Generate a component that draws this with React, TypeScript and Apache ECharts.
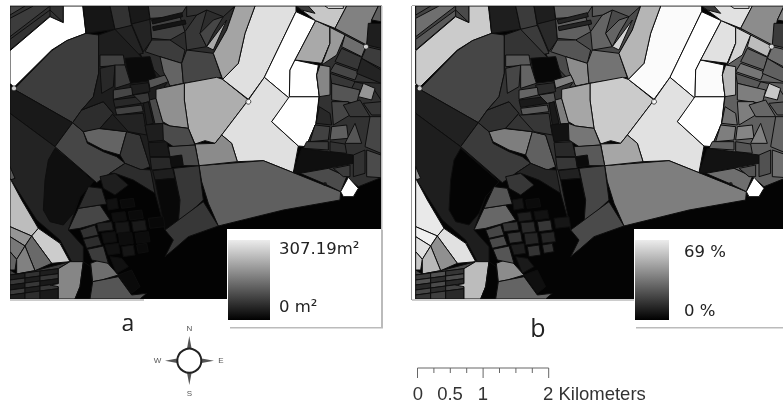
import React, { useEffect, useRef } from "react";
import * as echarts from "echarts";

type Row = [string, number, number];

// Every row: outline in map units, floor area (m2), share (%)
const seaRows: Row[] = [["30,18 1143,18 1143,897 30,897", 4, 1]];

const westRows: Row[] = [
  ["30,18 190,18 190,68 150,50 30,150", 60, 18],
  ["30,18 75,18 30,45", 84, 22],
  ["30,55 100,18 150,18 30,110", 72, 30],
  ["30,118 150,30 150,48 30,150", 60, 24],
  ["150,18 190,18 190,68 150,30", 60, 20],
  ["30,152 150,50 190,68 190,18 248,18 258,100 200,122 155,150 42,262 30,250", 307, 55],
  ["42,268 155,152 200,122 258,100 296,105 296,220 280,290 245,330 218,368", 74, 19],
  ["30,255 42,268 218,368 165,440 30,340", 30, 9],
  ["30,340 165,440 280,545 240,590 205,690 250,740 250,785 215,785 180,720 110,660 30,535", 42, 8],
  ["30,500 45,535 30,540", 108, 40],
  ["165,445 280,545 240,590 220,640 190,675 150,665 130,630 135,540 145,480", 18, 1],
  ["218,368 250,395 262,430 310,455 350,470 375,490 330,520 290,548 165,440", 84, 16],
  ["250,395 290,385 380,395 360,465 310,450 262,425", 120, 34],
  ["380,395 420,405 450,500 425,510 375,490 360,465", 66, 26],
  ["375,490 420,508 455,510 465,580 400,540 345,520 330,520", 54, 10],
  ["218,368 245,330 310,305 340,340 300,385 250,395", 54, 13],
  ["30,535 65,600 115,685 95,708 30,680", 228, 63],
  ["30,680 95,708 75,738 30,710", 180, 65],
  ["30,710 75,738 50,778 30,755", 144, 61],
  ["30,755 50,778 45,810 30,810", 120, 54],
  ["95,708 115,685 180,730 210,785 155,790", 246, 61],
  ["95,708 155,790 105,812 75,738", 126, 39],
  ["50,778 75,738 105,812 50,822", 156, 50],
  ["30,810 50,822 105,812 210,785 175,806 30,825", 72, 20],
  ["205,690 235,625 300,615 330,660 240,685", 84, 28],
  ["235,625 265,560 305,565 320,612 300,615", 54, 23],
];

const stripRows: Row[] = [
  ["30,825 75,819 75,834 30,840", 36, 16],
  ["75,819 120,813 120,828 75,834", 60, 22],
  ["120,813 175,806 175,821 120,828", 36, 14],
  ["30,840 75,834 75,849 30,855", 66, 22],
  ["75,834 120,828 120,843 75,849", 36, 12],
  ["120,828 175,821 175,836 120,843", 66, 20],
  ["30,855 75,849 75,864 30,870", 30, 11],
  ["75,849 120,843 120,858 75,864", 66, 20],
  ["120,843 175,836 175,851 120,858", 30, 11],
  ["30,870 75,864 75,879 30,885", 72, 19],
  ["75,864 120,858 120,873 75,879", 36, 12],
  ["120,858 175,851 175,866 120,873", 66, 18],
  ["30,885 75,879 75,897 30,897", 36, 14],
  ["75,879 120,873 120,897 75,897", 54, 17],
  ["120,873 175,866 175,897 120,897", 30, 11],
  ["175,806 210,785 250,785 240,860 225,897 175,897 175,860 150,855 175,851", 162, 51],
  ["250,785 272,800 278,850 270,897 225,897 240,860", 5, 1],
  ["272,790 310,775 355,825 305,840 278,845", 132, 38],
  ["278,845 355,830 395,885 440,880 420,897 270,897", 102, 27],
];

const northRows: Row[] = [
  ["250,18 705,18 680,90 640,160 665,232 550,250 468,268 420,160 345,88 258,100", 54, 20],
  ["250,18 330,18 345,88 258,100", 26, 8],
  ["330,18 385,18 395,80 345,88", 60, 16],
  ["385,18 445,18 450,60 395,72", 30, 8],
  ["445,18 560,18 540,50 450,55", 96, 27],
  ["296,105 345,88 358,160 300,165", 60, 16],
  ["345,88 395,76 430,160 380,170 358,150", 42, 16],
  ["395,72 450,58 455,120 430,155", 42, 11],
  ["450,58 540,50 555,95 510,120 455,115", 78, 26],
  ["455,60 545,38 548,50 458,72", 24, 10],
  ["458,80 555,60 558,72 460,92", 24, 10],
  ["455,120 510,120 555,150 545,190 480,170 435,155", 72, 23],
  ["480,170 545,190 550,250 510,258 490,215", 120, 38],
  ["545,190 560,150 640,160 665,232 550,250", 84, 31],
  ["555,95 590,45 620,30 600,100 620,140 560,150", 66, 27],
  ["620,140 600,100 640,60 670,50 640,100", 84, 27],
  ["620,140 680,60 640,150", 204, 57],
  ["560,18 705,18 670,50 620,30 590,45 560,50", 60, 24],
];

const coreRows: Row[] = [
  ["296,105 345,88 500,250 468,295 488,370 520,530 540,600 535,680 495,690 465,580 450,500 420,405 380,395 300,385 340,340 310,305 245,330 280,290 296,220", 36, 14],
  ["375,175 450,170 470,240 390,250", 12, 2],
  ["300,165 370,165 375,195 300,200", 78, 24],
  ["300,205 345,195 340,260 305,280", 48, 19],
  ["345,195 375,195 392,250 345,265", 72, 27],
  ["445,240 495,225 505,245 450,265", 102, 35],
  ["390,255 445,248 450,275 395,285", 36, 12],
  ["340,270 395,262 398,285 340,298", 84, 27],
  ["340,300 420,290 425,310 345,322", 48, 7],
  ["345,325 425,315 430,335 350,345", 78, 24],
  ["400,285 445,278 450,305 425,310", 66, 23],
  ["350,345 430,340 440,405 385,395 340,345", 42, 15],
  ["430,310 445,305 460,370 440,375", 36, 7],
  ["448,300 468,295 490,370 465,372", 90, 34],
  ["435,375 490,370 500,420 445,425", 36, 5],
  ["445,428 500,425 510,470 450,470", 30, 11],
  ["450,472 510,472 515,505 455,510", 48, 15],
  ["510,470 545,465 550,497 515,500", 18, 3],
  ["458,512 518,505 525,535 465,540", 36, 9],
  ["465,540 525,535 540,600 535,680 495,690", 10, 1],
];

const centreRows: Row[] = [
  ["553,250 650,232 668,238 745,300 665,405 645,430 615,422 585,432 565,385 553,300", 210, 55],
  ["468,268 553,250 553,300 565,385 510,378 488,365 468,295", 174, 45],
  ["765,18 888,18 888,35 793,232 745,298 668,238 715,190 735,100", 270, 68],
  ["888,35 947,62 885,180 870,210 868,295 793,232", 307, 69],
  ["793,232 868,295 815,365 895,438 880,518 790,482 712,485 695,430 665,405 745,300", 270, 61],
  ["868,290 957,290 948,370 918,440 895,438 815,365", 307, 69],
  ["885,180 955,195 950,225 958,290 868,290 870,210", 307, 68],
  ["947,62 990,82 990,130 965,190 885,180", 204, 61],
  ["705,18 765,18 735,100 715,190 668,238 640,160 680,90", 198, 49],
  ["597,497 790,482 1022,575 1020,600 850,630 655,678 625,610 605,545", 114, 34],
  ["585,432 645,430 665,405 695,430 712,485 597,497", 168, 45],
  ["520,505 597,497 610,600 535,670 540,600", 66, 19],
  ["495,690 610,605 655,678 565,710 525,745 495,770 520,720", 66, 20],
  ["510,378 565,385 585,435 520,440 490,420 488,370", 90, 32],
  ["505,440 585,435 597,497 550,497 545,465 510,470", 90, 24],
];

const eastRows: Row[] = [
  ["990,82 1143,130 1143,533 1075,560 1040,530 985,505 900,520 918,440 948,370 958,290 950,225 965,190 990,130", 60, 26],
  ["888,18 1040,18 1005,85 947,62", 240, 61],
  ["888,18 925,18 945,40 905,30", 72, 16],
  ["975,18 1030,18 1030,25 985,25", 307, 69],
  ["1040,18 1135,18 1115,60 1100,135 1005,85", 156, 38],
  ["1115,60 1135,18 1143,18 1143,65", 114, 35],
  ["1105,70 1143,70 1143,145 1100,135", 36, 16],
  ["990,82 1035,105 1010,165 965,195 990,130", 186, 57],
  ["1035,105 1098,138 1085,170 1025,140", 132, 51],
  ["1025,145 1085,172 1075,210 1005,185", 66, 27],
  ["1005,190 1075,215 1065,240 990,215", 84, 32],
  ["990,220 1065,245 1055,265 995,250", 66, 24],
  ["960,195 990,200 990,285 958,290 950,225", 162, 50],
  ["995,250 1080,270 1070,310 995,300", 102, 34],
  ["1100,140 1143,150 1143,205 1085,175", 72, 30],
  ["1085,175 1143,210 1143,250 1070,220", 42, 26],
  ["1065,245 1143,250 1143,300 1120,265 1085,250", 54, 26],
  ["1090,250 1125,265 1115,300 1075,290", 180, 54],
  ["995,305 1045,305 1050,345 1000,375", 84, 34],
  ["958,320 990,340 995,375 948,370", 48, 31],
  ["945,375 990,380 985,420 930,425", 78, 34],
  ["995,380 1040,375 1045,415 990,420", 114, 36],
  ["1030,315 1080,300 1110,350 1050,350", 66, 28],
  ["1065,370 1085,430 1035,430", 102, 35],
  ["1090,310 1143,305 1143,345 1115,345", 66, 24],
  ["1110,350 1143,350 1143,460 1095,440", 84, 27],
  ["920,425 985,425 985,450 910,445", 72, 26],
  ["990,425 1035,432 1040,460 990,455", 60, 23],
  ["905,445 1060,465 1060,490 900,520 880,518", 18, 5],
  ["1060,465 1095,450 1095,520 1060,530", 60, 22],
  ["1100,450 1143,465 1143,533 1100,530", 90, 30],
  ["900,520 985,505 1040,530 1022,575 975,552", 90, 30],
  ["1000,505 1050,495 1050,530 1030,530", 72, 23],
  ["1045,532 1075,565 1060,590 1030,590 1022,575", 307, 69],
];

const southRows: Row[] = [
  ["300,530 345,520 385,555 345,585 310,565", 36, 15],
  ["320,600 350,595 355,625 325,630", 20, 6],
  ["360,600 400,595 405,620 365,625", 12, 3],
  ["335,640 375,635 380,660 340,665", 18, 8],
  ["385,635 425,630 430,655 390,660", 12, 5],
  ["290,670 335,665 340,690 295,695", 42, 14],
  ["345,668 385,665 390,695 350,700", 26, 11],
  ["395,665 435,660 440,690 400,695", 30, 15],
  ["445,655 490,650 495,680 450,685", 10, 6],
  ["240,690 285,675 295,705 250,715", 60, 19],
  ["250,718 295,708 305,735 260,745", 54, 20],
  ["262,748 310,738 325,790 275,780", 72, 23],
  ["305,700 345,695 350,725 312,730", 20, 14],
  ["355,700 395,698 400,730 360,735", 16, 10],
  ["315,735 355,730 360,760 325,765", 20, 8],
  ["365,740 400,735 405,765 370,770", 26, 14],
  ["405,700 445,695 450,725 410,730", 14, 10],
  ["410,735 440,730 445,755 415,760", 12, 13],
  ["330,770 365,775 385,800 350,820", 20, 7],
  ["355,825 395,810 420,860 395,880", 12, 4],
];

const junctions = [[42, 265], [745, 305], [1098, 140]];
const darkJunctions = [[975, 552]];
const areaTicks = ["307.19m²", "0 m²"];
const shareTicks = ["69 %", "0 %"];
const areaMax = 307.19;
const shareMax = 69;
const scaleLabels = ["0", "0.5", "1", "2 Kilometers"];
const compassLetters = ["N", "E", "S", "W"];

const allRows: Row[] = [...seaRows, ...westRows, ...stripRows, ...northRows, ...coreRows, ...centreRows, ...eastRows, ...southRows];
const shapes = allRows.map((r) => r[0].split(" ").map((p) => p.split(",").map(Number)));

const renderDistrict = (_: unknown, api: any) => {
  const pts = shapes[api.value(0)].map((p) => api.coord(p));
  const isSea = api.value(0) === 0;
  return {
    type: "polygon",
    shape: { points: pts },
    style: { fill: api.visual("color"), stroke: isSea ? "none" : "#0e0e0e", lineWidth: 1 },
  };
};

const scaleTicks = () => {
  const out: any[] = [];
  const x0 = 417.5, step = 16.4, y = 368;
  out.push({ type: "line", shape: { x1: x0, y1: y, x2: x0 + 8 * step, y2: y }, style: { stroke: "#666", lineWidth: 1 } });
  for (let i = 0; i <= 8; i++) {
    const long = i % 4 === 0;
    out.push({ type: "line", shape: { x1: x0 + i * step, y1: y, x2: x0 + i * step, y2: y + (long ? 10 : 5) }, style: { stroke: "#666", lineWidth: 1 } });
  }
  return out;
};

const compass = () => {
  const cx = 189.3, cy = 360.7, r = 12;
  const spike = (pts: number[][]) => ({ type: "polygon", shape: { points: pts }, style: { fill: "#555" } });
  const letterPos = [[cx, 328], [221, cy], [cx, 393.5], [157.5, cy]];
  return [
    spike([[cx, 336], [cx + 2.5, cy - r + 1], [cx - 2.5, cy - r + 1]]),
    spike([[cx, 385], [cx + 2.5, cy + r - 1], [cx - 2.5, cy + r - 1]]),
    spike([[214, cy], [cx + r - 1, cy - 2.5], [cx + r - 1, cy + 2.5]]),
    spike([[165, cy], [cx - r + 1, cy - 2.5], [cx - r + 1, cy + 2.5]]),
    { type: "circle", shape: { cx, cy, r }, style: { fill: "#fff", stroke: "#222", lineWidth: 2 } },
    ...compassLetters.map((t, i) => ({
      type: "text", x: letterPos[i][0], y: letterPos[i][1],
      style: { text: t, fill: "#555", font: "8px 'Liberation Sans'", align: "center", verticalAlign: "middle" },
    })),
  ];
};

const txt = (text: string, x: number, y: number, font: string, fill: string, align = "left") => ({
  type: "text", x, y, z: 10,
  style: { text, font, fill, align, verticalAlign: "middle" },
});

const ramp = (x: number, width: number) => ({
  type: "rect", z: 6, shape: { x, y: 240, width, height: 80 },
  style: {
    fill: new echarts.graphic.LinearGradient(0, 0, 0, 1, [
      { offset: 0, color: "#ececec" },
      { offset: 1, color: "#000" },
    ]),
  },
});

export default function App() {
  const ref = useRef<HTMLDivElement>(null);
  useEffect(() => {
    const chart = echarts.init(ref.current!, undefined, { renderer: "svg" });
    const axisCommon = { type: "value", show: false, scale: true };
    const scaleCommon = { type: "continuous", dimension: 1, min: 0, show: false, inRange: { color: ["#000", "#fff"] } };
    chart.setOption({
      animation: false,
      backgroundColor: "#fff",
      grid: [
        { left: 10, top: 6, width: 371, height: 293 },
        { left: 412, top: 6, width: 371, height: 293 },
      ],
      xAxis: [
        { ...axisCommon, gridIndex: 0, min: 30, max: 1143 },
        { ...axisCommon, gridIndex: 1, min: 19, max: 1132 },
      ],
      yAxis: [
        { ...axisCommon, gridIndex: 0, min: 18, max: 897, inverse: true },
        { ...axisCommon, gridIndex: 1, min: 18, max: 897, inverse: true },
      ],
      visualMap: [
        { ...scaleCommon, seriesIndex: 0, max: areaMax },
        { ...scaleCommon, seriesIndex: 1, max: shareMax },
      ],
      series: [
        {
          type: "custom", xAxisIndex: 0, yAxisIndex: 0, clip: true, z: 2, silent: true,
          renderItem: renderDistrict, data: allRows.map((r, i) => [i, r[1]]),
        },
        {
          type: "custom", xAxisIndex: 1, yAxisIndex: 1, clip: true, z: 2, silent: true,
          renderItem: renderDistrict, data: allRows.map((r, i) => [i, r[2]]),
        },
        {
          type: "scatter", xAxisIndex: 0, yAxisIndex: 0, data: junctions, symbolSize: 5, z: 3, silent: true,
          itemStyle: { color: "#fff", borderColor: "#222", borderWidth: 1 },
        },
        {
          type: "scatter", xAxisIndex: 1, yAxisIndex: 1, data: junctions, symbolSize: 5, z: 3, silent: true,
          itemStyle: { color: "#fff", borderColor: "#222", borderWidth: 1 },
        },
        {
          type: "scatter", xAxisIndex: 0, yAxisIndex: 0, data: darkJunctions, symbolSize: 4, z: 3, silent: true,
          itemStyle: { color: "#111" },
        },
        {
          type: "scatter", xAxisIndex: 1, yAxisIndex: 1, data: darkJunctions, symbolSize: 4, z: 3, silent: true,
          itemStyle: { color: "#111" },
        },
      ],
      graphic: [
        { type: "rect", z: 4, shape: { x: 10, y: 299, width: 134, height: 2 }, style: { fill: "#ccc" } },
        { type: "rect", z: 4, shape: { x: 412, y: 299, width: 222, height: 2 }, style: { fill: "#ccc" } },
        { type: "rect", z: 4, shape: { x: 10, y: 5, width: 372, height: 1 }, style: { fill: "#aaa" } },
        { type: "rect", z: 4, shape: { x: 412, y: 5, width: 371, height: 1 }, style: { fill: "#aaa" } },
        { type: "rect", z: 4, shape: { x: 381, y: 6, width: 1.5, height: 294 }, style: { fill: "#bbb" } },
        { type: "rect", z: 4, shape: { x: 411, y: 6, width: 1, height: 294 }, style: { fill: "#999" } },
        { type: "rect", z: 5, shape: { x: 230, y: 230, width: 153, height: 98.5 }, style: { fill: "#bbb" } },
        { type: "rect", z: 5, shape: { x: 227, y: 229, width: 154, height: 98 }, style: { fill: "#fff" } },
        { type: "rect", z: 5, shape: { x: 636, y: 230, width: 147, height: 98.5 }, style: { fill: "#bbb" } },
        { type: "rect", z: 5, shape: { x: 634, y: 229, width: 149, height: 98 }, style: { fill: "#fff" } },
        ramp(228, 42),
        ramp(635, 34),
        txt(areaTicks[0], 279, 248, "16.5px 'DejaVu Sans'", "#222"),
        txt(areaTicks[1], 279, 306, "16.5px 'DejaVu Sans'", "#222"),
        txt(shareTicks[0], 684, 251, "16.5px 'DejaVu Sans'", "#222"),
        txt(shareTicks[1], 684, 310, "16.5px 'DejaVu Sans'", "#222"),
        txt("a", 128, 322, "23px 'Open Sans'", "#222", "center"),
        txt("b", 538, 327, "25px 'Open Sans'", "#222", "center"),
        ...scaleTicks(),
        txt(scaleLabels[0], 418, 393, "18.5px 'Liberation Sans'", "#333", "center"),
        txt(scaleLabels[1], 450, 393, "18.5px 'Liberation Sans'", "#333", "center"),
        txt(scaleLabels[2], 483, 393, "18.5px 'Liberation Sans'", "#333", "center"),
        txt(scaleLabels[3], 543, 393, "18.5px 'Liberation Sans'", "#333"),
        ...compass(),
      ],
    });
    return () => chart.dispose();
  }, []);
  return (
    <div
      ref={ref}
      style={{ position: "absolute", left: 0, top: 0, width: 783, height: 410, filter: "blur(0.45px)" }}
    />
  );
}
